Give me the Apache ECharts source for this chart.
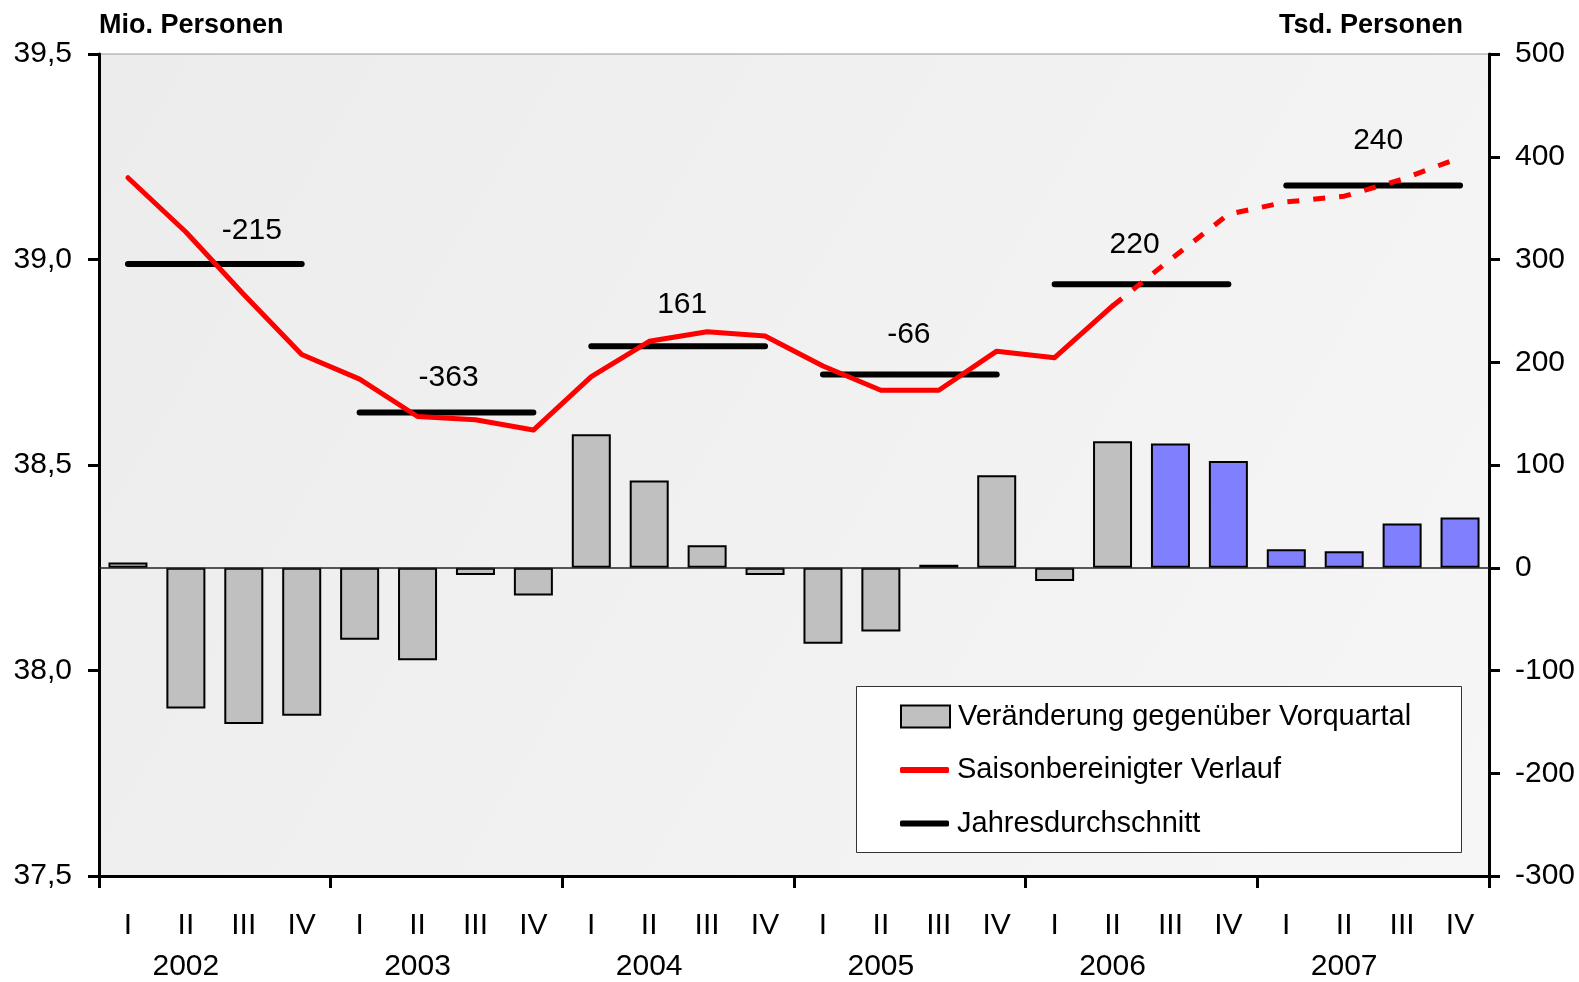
<!DOCTYPE html>
<html><head><meta charset="utf-8">
<script src="https://cdn.jsdelivr.net/npm/echarts@6/dist/echarts.min.js"></script>
<style>html,body{margin:0;padding:0;background:#fff}#c{width:1579px;height:982px}</style>
</head><body><div id="c"></div>
<script>
// ---- data ----
const years = ['2002','2003','2004','2005','2006','2007'];
const quarters = ['I','II','III','IV'];
// Veränderung gegenüber Vorquartal (Tsd. Personen), right axis
const changeVsPrevQuarter = [5,-137,-152,-144, -70,-90,-7,-27, 130,85,22,-7, -74,-62,3,90, -13,123,121,104, 18,16,43,49];
// Saisonbereinigter Verlauf (Mio. Personen), left axis
const seasonallyAdjusted = [39.199,39.067,38.915,38.769, 38.709,38.618,38.610,38.585, 38.715,38.801,38.824,38.814, 38.741,38.682,38.682,38.777, 38.761,38.887,39.000,39.110, 39.140,39.154,39.195,39.248];
// Jahresdurchschnitt (Mio. Personen), left axis
const annualAverage = [38.989,38.628,38.789,38.720,38.940,39.180];
// Veränderung des Jahresdurchschnitts (Tsd. Personen), label text
const annualChange = [-215,-363,161,-66,220,240];
const forecastBarStart = 18;   // 2006 III
const forecastLineStart = 17;  // 2006 II

// ---- styles ----
const FONT = 'Liberation Sans';
const labelShift = [[66,36],[31,38],[33,44],[28,43],[22,42],[34,48]];

const categories = years.flatMap(y => quarters.map(q => y + ' ' + q));

const series = [];
series.push({
  type:'bar', name:'Veränderung gegenüber Vorquartal', xAxisIndex:0, yAxisIndex:1,
  barWidth:39, z:2,
  itemStyle:{color:'#c0c0c0', borderColor:'#000', borderWidth:2},
  data: changeVsPrevQuarter.map((v,i)=> i>=forecastBarStart ? {value:v, itemStyle:{color:'#8080ff'}} : v),
  markLine:{silent:true, symbol:['none','none'], label:{show:false},
    lineStyle:{color:'#222', width:1.5, type:'solid'}, data:[{yAxis:0}]}
});
years.forEach((y,k)=>{
  series.push({
    type:'line', name:'Jahresdurchschnitt', xAxisIndex:0, yAxisIndex:0, z:3,
    color:'#000', symbol:'none', showSymbol:false,
    lineStyle:{color:'#000', width:6, cap:'round'},
    data: categories.map((c,i)=> Math.floor(i/4)===k ? annualAverage[k] : null)
  });
});
series.push({
  type:'scatter', name:'labels', xAxisIndex:0, yAxisIndex:0, z:6,
  symbol:'circle', symbolSize:2, itemStyle:{color:'rgba(0,0,0,0)', opacity:1},
  label:{show:true, position:'inside', color:'#000000', opacity:1, fontSize:30, fontFamily:FONT,
    textBorderWidth:0, formatter: p => String(annualChange[p.dataIndex])},
  data: years.map((y,k)=>({value:[k*4+1, annualAverage[k]],
    label:{offset:[labelShift[k][0], -labelShift[k][1]+3]}}))
});
series.push({
  type:'line', name:'Saisonbereinigter Verlauf', xAxisIndex:0, yAxisIndex:0, z:5,
  color:'#ff0000', symbol:'none', showSymbol:false,
  lineStyle:{color:'#ff0000', width:5, cap:'round', join:'round'},
  data: seasonallyAdjusted.map((v,i)=> i<=forecastLineStart ? v : null)
});
series.push({
  type:'line', name:'Prognose', xAxisIndex:0, yAxisIndex:0, z:5,
  color:'#ff0000', symbol:'none', showSymbol:false,
  lineStyle:{color:'#ff0000', width:5, type:[12,14]},
  data: seasonallyAdjusted.map((v,i)=> i>=forecastLineStart ? v : null)
});

const chart = echarts.init(document.getElementById('c'), null, {renderer:'canvas'});
chart.setOption({
  animation:false,
  backgroundColor:'#ffffff',
  textStyle:{fontFamily:FONT},
  grid:{left:99, right:90, top:54, bottom:102, show:true, borderColor:'#9a9a9a', borderWidth:1,
    backgroundColor:{type:'linear', x:0, y:0, x2:1, y2:1,
      colorStops:[{offset:0,color:'#ececec'},{offset:1,color:'#f6f6f6'}]}},
  graphic:[{type:'rect', left:856, top:686, z:5,
    shape:{width:605, height:166}, style:{fill:'#ffffff', stroke:'#333', lineWidth:1}}],
  legend:[
    {data:['Veränderung gegenüber Vorquartal'], left:900, top:701.5, icon:'rect',
     itemWidth:49, itemHeight:22, padding:0, selectedMode:false, z:10,
     textStyle:{fontSize:29, lineHeight:30, color:'#000', fontFamily:FONT, padding:[0,0,0,3]}},
    {data:['Saisonbereinigter Verlauf','Jahresdurchschnitt'], orient:'vertical', left:900, top:755,
     icon:'roundRect', itemWidth:49, itemHeight:6, itemGap:23.5, padding:0, selectedMode:false, z:10,
     textStyle:{fontSize:29, lineHeight:30, color:'#000', fontFamily:FONT, padding:[0,0,0,3]}}
  ],
  xAxis:[
    {type:'category', data:categories, boundaryGap:true, position:'bottom',
     axisLine:{onZero:false, lineStyle:{color:'#000', width:3}},
     axisTick:{show:false},
     axisLabel:{interval:0, margin:35, fontSize:30, lineHeight:30, color:'#000', fontFamily:FONT,
       formatter: v => v.split(' ')[1]}},
    {type:'category', data:years, boundaryGap:true, position:'bottom',
     axisLine:{show:false, onZero:false},
     axisTick:{show:true, length:12, lineStyle:{color:'#000', width:3}},
     axisLabel:{margin:76, fontSize:30, lineHeight:30, color:'#000', fontFamily:FONT,
       padding:[0,58,0,0]}}
  ],
  yAxis:[
    {type:'value', min:37.5, max:39.5, interval:0.5, position:'left',
     name:'Mio. Personen', nameLocation:'end', nameGap:28,
     nameTextStyle:{align:'left', verticalAlign:'middle', fontSize:27, fontWeight:'bold', color:'#000', fontFamily:FONT},
     axisLine:{show:true, lineStyle:{color:'#000', width:3}},
     axisTick:{show:true, length:11, lineStyle:{color:'#000', width:3}},
     splitLine:{show:false},
     axisLabel:{margin:27, fontSize:30, color:'#000', fontFamily:FONT,
       formatter: v => v.toFixed(1).replace('.', ',')}},
    {type:'value', min:-300, max:500, interval:100, position:'right',
     name:'Tsd. Personen', nameLocation:'end', nameGap:28,
     nameTextStyle:{align:'right', verticalAlign:'middle', fontSize:27, fontWeight:'bold', color:'#000', fontFamily:FONT, padding:[0,26,0,0]},
     axisLine:{show:true, lineStyle:{color:'#000', width:3}},
     axisTick:{show:true, length:11, lineStyle:{color:'#000', width:3}},
     splitLine:{show:false},
     axisLabel:{margin:26, fontSize:30, color:'#000', fontFamily:FONT}}
  ],
  series: series
});
</script></body></html>
